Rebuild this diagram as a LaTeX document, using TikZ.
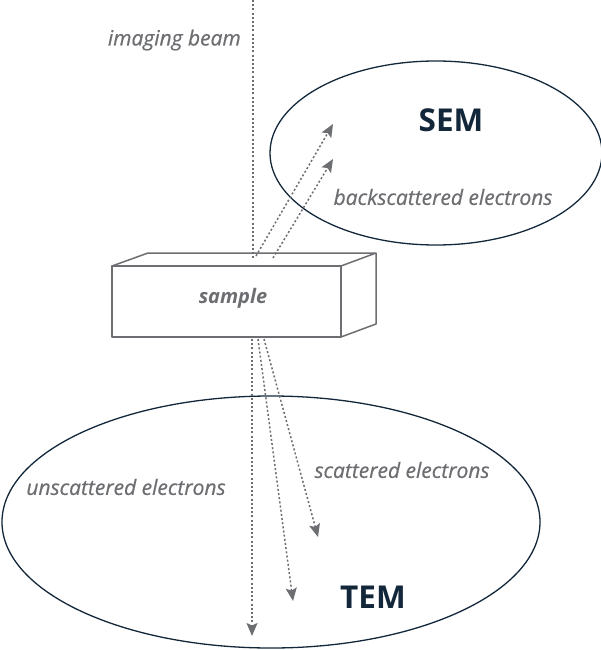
\documentclass[tikz,border=0pt]{standalone}
\usepackage{fontspec}
\setmainfont{Open Sans}
\newfontfamily\lblfont{Open Sans}[ItalicFeatures={FakeBold=0.6}]
\usetikzlibrary{arrows.meta,shapes.geometric}
\definecolor{txtgray}{HTML}{6D6E71}
\definecolor{navy}{HTML}{13273A}
\tikzset{
  lbl/.style={text=txtgray, font=\lblfont\fontsize{21}{23}\selectfont\itshape, inner sep=0pt},
  big/.style={text=navy, font=\fontsize{31.5}{34}\selectfont\bfseries, inner sep=0pt},
  ring/.style={draw=navy, line width=1.3pt, ellipse, inner sep=0pt},
  beam/.style={draw=txtgray, line width=1.5pt, dash pattern=on 2pt off 2.2pt},
  ray/.style={beam, -{Stealth[length=13pt,width=11pt,inset=2.5pt]}},
  box/.style={draw=txtgray, line width=1.5pt, line join=round}
}
\begin{document}
\begin{tikzpicture}[x=1pt,y=-1pt]
\useasboundingbox (0,0) rectangle (600,650);
% ellipses
\node[ring, minimum width=332pt, minimum height=184pt] (sem) at (436,153) {};
\node[ring, minimum width=538pt, minimum height=252pt] (tem) at (271,522) {};
% sample box
\coordinate (fa) at (112,266);
\coordinate (fb) at (341,266);
\coordinate (fc) at (341,337);
\coordinate (fd) at (112,337);
\coordinate (ba) at (148,253);
\coordinate (bb) at (376,253);
\coordinate (bc) at (376,324);
\draw[box, fill=white] (fa) -- (fb) -- (fc) -- (fd) -- cycle;
\draw[box] (fa) -- (ba) -- (bb) -- (fb);
\draw[box] (bb) -- (bc) -- (fc);
\node[lbl, font=\fontsize{20}{22}\selectfont\bfseries\itshape] (sample) at (233,298) {sample};
% beam
\coordinate (btop) at (253,0);
\coordinate (bhit) at (253,258);
\draw[beam] (btop) -- (bhit);
\node[lbl, anchor=east] (imaging) at (241,40) {imaging beam};
% backscattered
\coordinate (bs1s) at (256,256);
\coordinate (bs1e) at (333,124);
\coordinate (bs2s) at (273,258);
\coordinate (bs2e) at (333,159);
\draw[ray] (bs1s) -- (bs1e);
\draw[ray] (bs2s) -- (bs2e);
% transmitted
\coordinate (t1s) at (252,339);
\coordinate (t1e) at (252,636);
\coordinate (t2s) at (258,339);
\coordinate (t2e) at (293,601);
\coordinate (t3s) at (264,339);
\coordinate (t3e) at (318,537);
\draw[ray] (t1s) -- (t1e);
\draw[ray] (t2s) -- (t2e);
\draw[ray] (t3s) -- (t3e);
% labels
\node[big] (semlbl) at (451,120) {SEM};
\node[big] (temlbl) at (373,597) {TEM};
\node[lbl] (backlbl) at (443,197) {backscattered electrons};
\node[lbl] (unlbl) at (126,487) {unscattered electrons};
\node[lbl] (sclbl) at (402,470) {scattered electrons};
\end{tikzpicture}
\end{document}
